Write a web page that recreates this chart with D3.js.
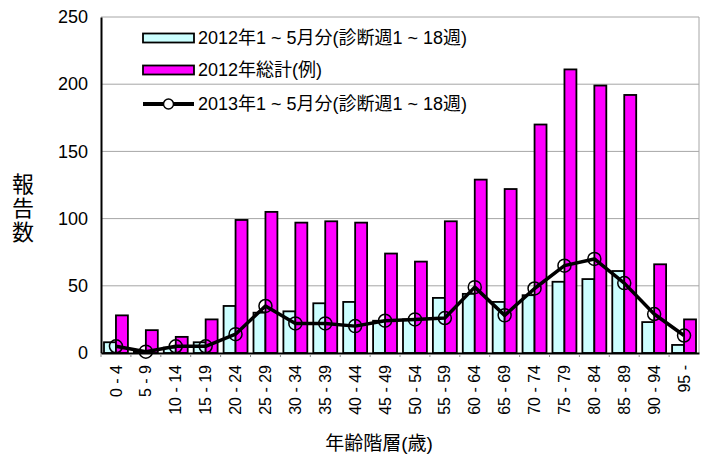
<!doctype html>
<html>
<head>
<meta charset="utf-8">
<script src="https://cdn.jsdelivr.net/npm/d3@7"></script>
<style>
  body { margin: 0; background: #fff; }
  text { font-family: "Liberation Sans", Arial, "Noto Sans CJK JP", sans-serif; fill: #000; }
</style>
</head>
<body>
<div id="chart"></div>
<script>
var ageGroups = ["0 - 4", "5 - 9", "10 - 14", "15 - 19", "20 - 24", "25 - 29", "30 - 34", "35 - 39", "40 - 44", "45 - 49",
                 "50 - 54", "55 - 59", "60 - 64", "65 - 69", "70 - 74", "75 - 79", "80 - 84", "85 - 89", "90 - 94", "95 -"];
var jan2012 = [8, 1, 4, 8, 35, 30, 31, 37, 38, 24, 25, 41, 44, 38, 43, 53, 55, 61, 23, 6];
var total2012 = [28, 17, 12, 25, 99, 105, 97, 98, 97, 74, 68, 98, 129, 122, 170, 211, 199, 192, 66, 25];
var jan2013 = [5, 1, 5, 5, 14, 35, 22, 22, 20, 24, 25, 26, 49, 28, 48, 65, 70, 52, 29, 13];
var yTicks = [0, 50, 100, 150, 200, 250];
var seriesNames = ["2012年1 ~ 5月分(診断週1 ~ 18週)", "2012年総計(例)", "2013年1 ~ 5月分(診断週1 ~ 18週)"];

var W = 704, H = 454;
var margin = {top: 17, right: 5, bottom: 101, left: 101};
var w = W - margin.left - margin.right,
    h = H - margin.top - margin.bottom;

var svg = d3.select("#chart").append("svg")
  .attr("width", W).attr("height", H);
var g = svg.append("g").attr("transform", "translate(" + margin.left + "," + margin.top + ")");

var x = d3.scaleBand().domain(ageGroups).range([0, w]).padding(0);
var sub = d3.scaleBand().domain([0, 1]).range([x.bandwidth() * 0.1, x.bandwidth() * 0.9]);
var y = d3.scaleLinear().domain([0, 250]).range([h, 0]);

// gridlines
g.selectAll(".grid").data(yTicks.slice(1)).enter().append("line")
  .attr("x1", 0).attr("x2", w)
  .attr("y1", function(d) { return y(d); }).attr("y2", function(d) { return y(d); })
  .attr("stroke", "#a6a6a6").attr("stroke-width", 1);
g.append("line").attr("x1", w).attr("x2", w).attr("y1", 0).attr("y2", h)
  .attr("stroke", "#a6a6a6");

// bars
var rows = ageGroups.map(function(a, i) { return {age: a, v: [jan2012[i], total2012[i]]}; });
var colors = ["#ccffff", "#ff00ff"];
var grp = g.selectAll(".cat").data(rows).enter().append("g")
  .attr("transform", function(d) { return "translate(" + x(d.age) + ",0)"; });
grp.selectAll("rect").data(function(d) { return d.v; }).enter().append("rect")
  .attr("x", function(d, i) { return sub(i); })
  .attr("width", sub.bandwidth())
  .attr("y", function(d) { return y(d); })
  .attr("height", function(d) { return h - y(d); })
  .attr("fill", function(d, i) { return colors[i]; })
  .attr("stroke", "#000").attr("stroke-width", 1.8);

// 2013 line
var line = d3.line()
  .x(function(d, i) { return x(ageGroups[i]) + x.bandwidth() / 2; })
  .y(function(d) { return y(d); });
g.append("path").datum(jan2013).attr("d", line)
  .attr("fill", "none").attr("stroke", "#000").attr("stroke-width", 3.5)
  .attr("stroke-linejoin", "round");
g.selectAll(".pt").data(jan2013).enter().append("circle")
  .attr("cx", function(d, i) { return x(ageGroups[i]) + x.bandwidth() / 2; })
  .attr("cy", function(d) { return y(d); })
  .attr("r", 6.5)
  .attr("fill", "none").attr("stroke", "#000").attr("stroke-width", 1.5);

// axes
var yAxis = g.append("g").call(d3.axisLeft(y).tickValues(yTicks).tickSize(0).tickPadding(13));
yAxis.select(".domain").attr("stroke", "#000").attr("stroke-width", 2);
yAxis.selectAll("text").style("font-size", "18px");

var xAxis = g.append("g").attr("transform", "translate(0," + h + ")")
  .call(d3.axisBottom(x).tickSize(0).tickPadding(0));
xAxis.select(".domain").attr("stroke", "#000").attr("stroke-width", 2);
xAxis.selectAll("text")
  .style("font-size", "16px")
  .attr("text-anchor", "end")
  .attr("dy", "0.35em")
  .attr("transform", "translate(0,12) rotate(-90)");
g.selectAll(".xt").data(ageGroups).enter().append("line")
  .attr("x1", function(d) { return x(d); }).attr("x2", function(d) { return x(d); })
  .attr("y1", h + 1).attr("y2", h + 4)
  .attr("stroke", "#888");

// axis titles
var yt = svg.append("text").attr("x", 23).attr("y", 192)
  .style("font-size", "22px").attr("text-anchor", "middle");
"報告数".split("").forEach(function(c, i) {
  yt.append("tspan").attr("x", 23).attr("dy", i === 0 ? 0 : "1.08em").text(c);
});
svg.append("text").attr("x", 379).attr("y", 450)
  .attr("text-anchor", "middle").style("font-size", "19px").text("年齢階層(歳)");

// legend
var lg = svg.append("g").attr("transform", "translate(143,0)");
var ly = [38, 70, 104];
[0, 1].forEach(function(i) {
  lg.append("rect").attr("x", 0).attr("y", ly[i] - 4.5).attr("width", 51).attr("height", 9)
    .attr("fill", colors[i]).attr("stroke", "#000").attr("stroke-width", 1.8);
});
lg.append("line").attr("x1", 0).attr("x2", 51).attr("y1", ly[2]).attr("y2", ly[2])
  .attr("stroke", "#000").attr("stroke-width", 4);
lg.append("circle").attr("cx", 25.5).attr("cy", ly[2]).attr("r", 5)
  .attr("fill", "#fff").attr("stroke", "#000").attr("stroke-width", 1.5);
seriesNames.forEach(function(s, i) {
  lg.append("text").attr("x", 55).attr("y", ly[i]).attr("dy", "0.35em")
    .style("font-size", "18px").text(s);
});
</script>
</body>
</html>
